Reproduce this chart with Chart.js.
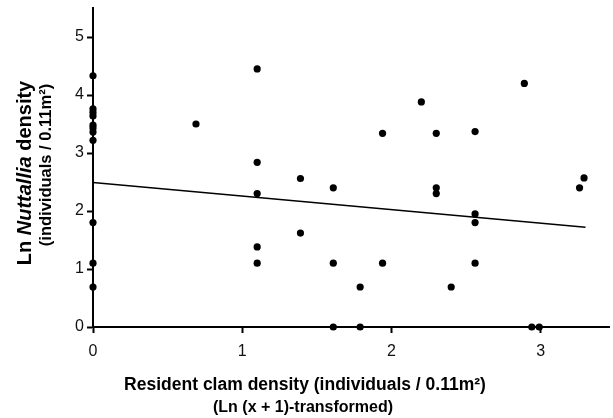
<!DOCTYPE html>
<html>
<head>
<meta charset="utf-8">
<script src="https://cdn.jsdelivr.net/npm/chart.js@4/dist/chart.umd.min.js"></script>
<style>
  html, body { margin: 0; padding: 0; background: #fff; }
  canvas { display: block; }
</style>
</head>
<body>
<canvas id="chart" width="613" height="418"></canvas>
<script>
// --- Data ---
const clamX = [
  0, 0, 0, 0, 0, 0, 0, 0, 0, 0, 0,
  0.69,
  1.10, 1.10, 1.10, 1.10, 1.10,
  1.39, 1.39,
  1.61, 1.61, 1.61,
  1.79, 1.79,
  1.94, 1.94,
  2.20,
  2.30, 2.30, 2.30,
  2.40,
  2.56, 2.56, 2.56, 2.56,
  2.89, 2.94, 2.99,
  3.26, 3.29
];
const nuttY = [
  4.33, 3.76, 3.70, 3.64, 3.48, 3.43, 3.36, 3.22, 1.80, 1.10, 0.69,
  3.50,
  4.45, 2.84, 2.30, 1.38, 1.10,
  2.56, 1.62,
  2.40, 1.10, 0,
  0.69, 0,
  3.34, 1.10,
  3.88,
  3.34, 2.40, 2.30,
  0.69,
  3.37, 1.95, 1.80, 1.10,
  4.20, 0, 0,
  2.40, 2.57
];
// regression line end points
const trendX = [0, 3.30];
const trendY = [2.49, 1.72];

const xTicks = [0, 1, 2, 3];
const yTicks = [0, 1, 2, 3, 4, 5];

const FONT = "'Liberation Sans', Arial, Helvetica, sans-serif";

// --- Axis titles (mixed bold / italic, so drawn by hand) ---
function drawRuns(ctx, runs, cx, cy) {
  let total = 0;
  runs.forEach(r => { ctx.font = r.font; total += ctx.measureText(r.text).width; });
  let x = cx - total / 2;
  runs.forEach(r => {
    ctx.font = r.font;
    ctx.fillText(r.text, x, cy);
    x += ctx.measureText(r.text).width;
  });
}

const titlePlugin = {
  id: 'titlePlugin',
  afterDraw(chart) {
    const {ctx} = chart;
    ctx.save();
    ctx.fillStyle = '#000';
    ctx.textAlign = 'left';
    ctx.textBaseline = 'middle';

    // x title
    drawRuns(ctx, [{text: 'Resident clam density (individuals / 0.11m²)', font: `bold 17.5px ${FONT}`}], 305, 385);
    drawRuns(ctx, [{text: '(Ln (x + 1)-transformed)', font: `bold 16px ${FONT}`}], 303, 408);

    // y title (rotated)
    ctx.save();
    ctx.translate(25, 173);
    ctx.rotate(-Math.PI / 2);
    drawRuns(ctx, [
      {text: 'Ln ', font: `bold 20px ${FONT}`},
      {text: 'Nuttallia', font: `italic bold 20px ${FONT}`},
      {text: ' density', font: `bold 20px ${FONT}`}
    ], 0, 0);
    ctx.restore();

    ctx.save();
    ctx.translate(46, 165);
    ctx.rotate(-Math.PI / 2);
    drawRuns(ctx, [{text: '(individuals / 0.11m²)', font: `bold 16.5px ${FONT}`}], 0, 0);
    ctx.restore();

    ctx.restore();
  }
};

const points = clamX.map((x, i) => ({x, y: nuttY[i]}));
const trend = trendX.map((x, i) => ({x, y: trendY[i]}));

new Chart(document.getElementById('chart'), {
  type: 'scatter',
  data: {
    datasets: [
      {
        data: points,
        backgroundColor: '#000',
        borderColor: '#000',
        pointRadius: 3.6,
        pointHoverRadius: 3.6,
        borderWidth: 0,
        clip: false
      },
      {
        type: 'line',
        data: trend,
        borderColor: '#000',
        borderWidth: 1.5,
        pointRadius: 0,
        fill: false,
        clip: false
      }
    ]
  },
  options: {
    responsive: false,
    animation: false,
    layout: { padding: { top: 8, left: 0, right: 0, bottom: 0 } },
    plugins: { legend: { display: false }, tooltip: { enabled: false } },
    scales: {
      x: {
        type: 'linear',
        min: 0,
        max: 3.46,
        afterBuildTicks: (s) => { s.ticks = xTicks.map(v => ({value: v})); },
        afterFit: (s) => { s.height = 91; },
        border: { color: '#000', width: 2 },
        grid: { drawOnChartArea: false, drawTicks: true, tickLength: 6, tickColor: '#000', tickWidth: 2 },
        ticks: { color: '#111', font: { family: FONT, size: 16 }, padding: 9, maxRotation: 0 }
      },
      y: {
        type: 'linear',
        min: 0,
        max: 5.5,
        afterBuildTicks: (s) => { s.ticks = yTicks.map(v => ({value: v})); },
        afterFit: (s) => { s.width = 93; s.paddingTop = 0; },
        border: { color: '#000', width: 2 },
        grid: { drawOnChartArea: false, drawTicks: true, tickLength: 6, tickColor: '#000', tickWidth: 2 },
        ticks: { color: '#111', font: { family: FONT, size: 16 }, padding: 3 }
      }
    }
  },
  plugins: [titlePlugin]
});
</script>
</body>
</html>
